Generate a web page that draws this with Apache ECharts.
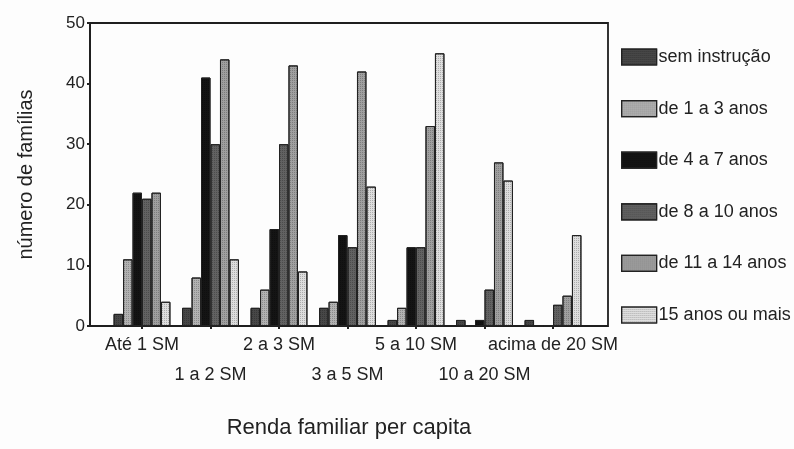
<!DOCTYPE html>
<html>
<head>
<meta charset="utf-8">
<script src="https://cdn.jsdelivr.net/npm/echarts@6/dist/echarts.min.js"></script>
<style>
  html, body { margin: 0; padding: 0; background: #fdfdfd; }
  #chart { width: 794px; height: 449px; }
</style>
</head>
<body>
<div id="chart"></div>
<script>
// Income brackets (per capita family income, in minimum wages)
const categories = ['Até 1 SM', '1 a 2 SM', '2 a 3 SM', '3 a 5 SM', '5 a 10 SM', '10 a 20 SM', 'acima de 20 SM'];

// Number of families by schooling level of the head of household
const semInstrucao = [2, 3, 3, 3, 1, 1, 1];
const de1a3 = [11, 8, 6, 4, 3, 0, 0];
const de4a7 = [22, 41, 16, 15, 13, 1, 0];
const de8a10 = [21, 30, 30, 13, 13, 6, 3.5];
const de11a14 = [22, 44, 43, 42, 33, 27, 5];
const de15mais = [4, 11, 9, 23, 45, 24, 15];

const seriesNames = ['sem instrução', 'de 1 a 3 anos', 'de 4 a 7 anos', 'de 8 a 10 anos', 'de 11 a 14 anos', '15 anos ou mais'];
const seriesData = [semInstrucao, de1a3, de4a7, de8a10, de11a14, de15mais];
const yTicks = [0, 10, 20, 30, 40, 50];

const fills = ['#474747', '#b2b2b2', '#141414', '#626262', '#a0a0a0', '#dedede'];
const FONT = '"Liberation Sans", Arial, sans-serif';

const chart = echarts.init(document.getElementById('chart'), null, { renderer: 'canvas' });

// fine dot texture laid over each fill
const dotted = {
  symbol: 'rect',
  symbolSize: 1,
  dashArrayX: [1, 1],
  dashArrayY: [1, 1],
  color: 'rgba(0,0,0,0.22)',
  rotation: 0
};

chart.setOption({
  backgroundColor: '#fdfdfd',
  animation: false,
  grid: [
    // frame with the value axis
    { left: 90, right: 186, top: 23, bottom: 123, show: true, borderColor: '#1e1e1e', borderWidth: 1.8,
      backgroundColor: 'transparent', outerBoundsMode: 'none', containLabel: false },
    // bar area with the income brackets
    { left: 107.75, right: 206.75, top: 23, bottom: 123, outerBoundsMode: 'none', containLabel: false }
  ],
  legend: {
    orient: 'vertical',
    left: 616,
    top: 43,
    padding: 5,
    itemWidth: 35,
    itemHeight: 16,
    itemGap: 33.6,
    icon: 'rect',
    itemStyle: { borderColor: '#222', borderWidth: 1.2 },
    textStyle: { fontFamily: FONT, fontSize: 18, color: '#222', lineHeight: 17, padding: [0, 0, 0, -3] },
    data: seriesNames
  },
  xAxis: [
    {
      type: 'category',
      gridIndex: 0,
      data: categories,
      show: true,
      axisLine: { show: false },
      axisTick: { show: false },
      axisLabel: { show: false },
      name: 'Renda familiar per capita',
      nameLocation: 'middle',
      nameGap: 91,
      nameTextStyle: { fontFamily: FONT, fontSize: 22, color: '#222' }
    },
    {
      type: 'category',
      gridIndex: 1,
      data: categories,
      axisLine: { show: false },
      axisTick: { show: true, alignWithLabel: true, length: 3, lineStyle: { color: '#222', width: 2 } },
      axisLabel: {
        interval: 0,
        margin: 4,
        fontFamily: FONT,
        fontSize: 18,
        color: '#222',
        lineHeight: 30,
        formatter: (v, i) => (i % 2 === 1 ? '\n' + v : v)
      }
    }
  ],
  yAxis: [
    {
      type: 'value',
      gridIndex: 0,
      min: yTicks[0],
      max: yTicks[yTicks.length - 1],
      interval: 10,
      splitLine: { show: false },
      axisLine: { show: true, lineStyle: { color: '#1e1e1e', width: 1.8 } },
      axisTick: { show: true, length: 3, lineStyle: { color: '#222', width: 2 } },
      axisLabel: { margin: 5, fontFamily: FONT, fontSize: 17, color: '#222' },
      name: 'número de famílias',
      nameLocation: 'middle',
      nameGap: 54,
      nameTextStyle: { fontFamily: FONT, fontSize: 20, color: '#222' }
    },
    {
      type: 'value',
      gridIndex: 1,
      min: yTicks[0],
      max: yTicks[yTicks.length - 1],
      show: false,
      splitLine: { show: false }
    }
  ],
  series: seriesNames.map((name, k) => ({
    name,
    type: 'bar',
    xAxisIndex: 1,
    yAxisIndex: 1,
    data: seriesData[k],
    barGap: '0%',
    barCategoryGap: '17%',
    itemStyle: { color: fills[k], borderColor: '#222', borderWidth: 1, decal: dotted }
  }))
});
</script>
</body>
</html>
